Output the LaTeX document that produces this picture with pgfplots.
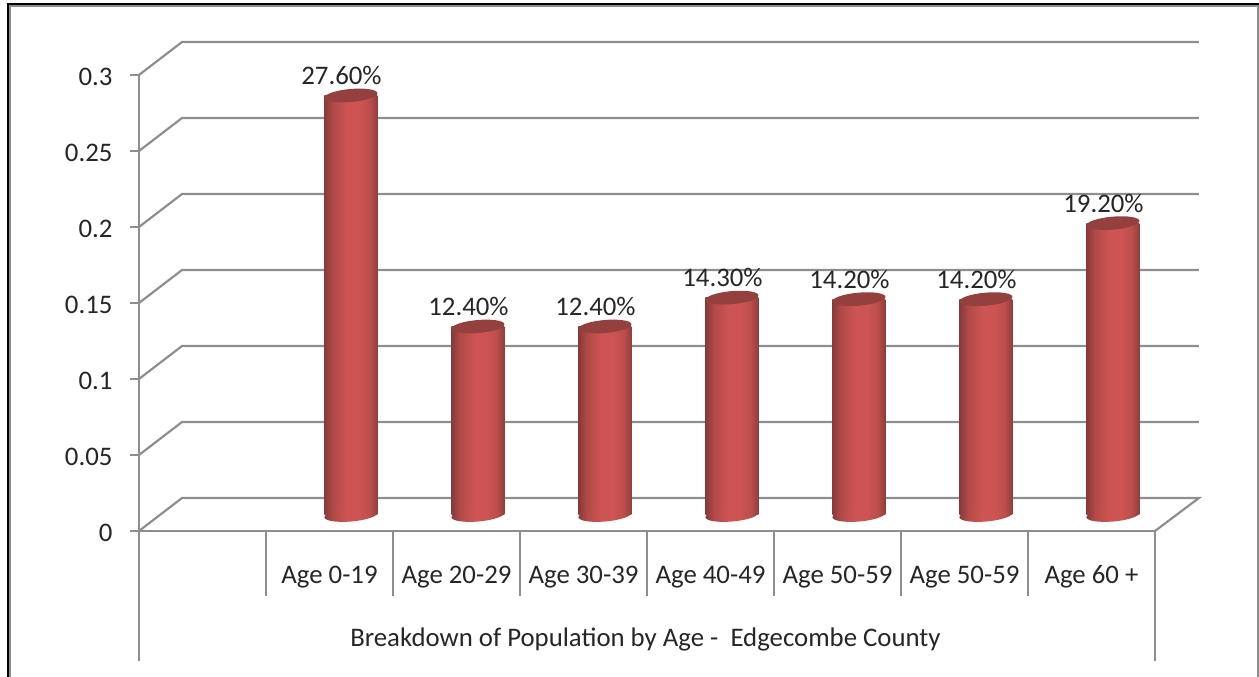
\documentclass[border=0pt]{standalone}
\usepackage{fontspec}
\setmainfont{Carlito}
\usepackage{pgfplots}
\pgfplotsset{compat=1.18}
\definecolor{wall}{HTML}{8E8E8E}
\definecolor{cylL}{HTML}{873A39}
\definecolor{cylM}{HTML}{CD5452}
\definecolor{cylR}{HTML}{8F3E3C}
\definecolor{cylT}{HTML}{93403E}
\definecolor{txt}{HTML}{262626}
\pgfdeclarehorizontalshading{cyl}{100bp}{color(0bp)=(cylL); color(25bp)=(cylL); color(33bp)=(cylM!60!cylL); color(46bp)=(cylM); color(58bp)=(cylM); color(68bp)=(cylM!70!cylR); color(75bp)=(cylR); color(100bp)=(cylR)}
\pgfdeclareplotmark{cylbase}{%
  \pgfpathellipse{\pgfpointorigin}{\pgfpoint{26.5pt}{2.3pt}}{\pgfpoint{-0.5pt}{6.5pt}}%
  \pgfshadepath{cyl}{0}\pgfusepath{discard}}
\pgfdeclareplotmark{cyltop}{%
  \pgfsetfillcolor{cylT}%
  \pgfpathellipse{\pgfpointorigin}{\pgfpoint{26.5pt}{2.3pt}}{\pgfpoint{-0.5pt}{6.5pt}}%
  \pgfusepath{fill}}
\newcommand{\chartfont}{\fontsize{26.8}{30}\selectfont}
\pgfplotsset{
  cylbar/.style={ybar,bar shift=0pt,bar width=53pt,draw=none,shade,shading=cyl,
    point meta={y*100},
    nodes near coords={\pgfmathprintnumber[fixed,fixed zerofill,precision=2,assume math mode=true]{\pgfplotspointmeta}\%},
    every node near coord/.append style={anchor=center,xshift=-9.5pt,yshift=20pt,font=\chartfont,text=txt}},
  wallline/.style={wall,line width=2.2pt},
}
\begin{document}
\begin{tikzpicture}[x=1pt,y=1pt]
\useasboundingbox (0,0) rectangle (1259,677);
% frame
\draw[wall,line width=2pt] (10,0) -- (10,671) -- (1257.5,671) -- (1257.5,0);
\draw[black,line width=2.4pt] (8,0) -- (8,673) -- (1259,673);
% front plane, value axis and category labels
\begin{axis}[
  at={(139pt,146pt)},anchor=south west,
  scale only axis,width=1016pt,height=456pt,
  xmin=-1.5,xmax=6.5,ymin=0,ymax=0.3,
  clip=false,
  axis lines=left,
  axis line style={-,draw=wall,line width=2.2pt},
  xtick={0,1,2,3,4,5,6},
  xticklabels={Age 0-19,Age 20-29,Age 30-39,Age 40-49,Age 50-59,Age 50-59,Age 60 +},
  xtick style={draw=none},
  ytick={0,0.05,0.1,0.15,0.2,0.25,0.3},
  yticklabels={0,0.05,0.1,0.15,0.2,0.25,0.3},
  ytick style={draw=wall,line width=2.2pt},
  tick align=outside,
  major tick length=9pt,
  tick label style={font=\chartfont,text=txt},
  xticklabel style={anchor=center,yshift=-37pt},
  yticklabel style={anchor=east,xshift=-14pt,yshift=-2pt},
  xlabel={Breakdown of Population by Age -\ \ Edgecombe County},
  every axis x label/.style={at={(axis description cs:0.4985,0)},anchor=center,yshift=-109pt,font=\chartfont,text=txt},
]
\addplot[wallline] coordinates {(-1.5,0) (-1.1614,0.0217) (6.846,0.0217) (6.5,0)};
\addplot[wallline] coordinates {(-1.5,0.05) (-1.1614,0.0717) (6.846,0.0717)};
\addplot[wallline] coordinates {(-1.5,0.10) (-1.1614,0.1217) (6.846,0.1217)};
\addplot[wallline] coordinates {(-1.5,0.15) (-1.1614,0.1717) (6.846,0.1717)};
\addplot[wallline] coordinates {(-1.5,0.20) (-1.1614,0.2217) (6.846,0.2217)};
\addplot[wallline] coordinates {(-1.5,0.25) (-1.1614,0.2717) (6.846,0.2717)};
\addplot[wallline] coordinates {(-1.5,0.30) (-1.1614,0.3217) (6.846,0.3217)};
\addplot[wallline] coordinates {(-1.5,0) (-1.5,-0.0855)};
\addplot[wallline] coordinates {(6.5,0) (6.5,-0.0855)};
\addplot[wallline] coordinates {(-0.5,0) (-0.5,-0.0428)};
\addplot[wallline] coordinates {(0.5,0) (0.5,-0.0428)};
\addplot[wallline] coordinates {(1.5,0) (1.5,-0.0428)};
\addplot[wallline] coordinates {(2.5,0) (2.5,-0.0428)};
\addplot[wallline] coordinates {(3.5,0) (3.5,-0.0428)};
\addplot[wallline] coordinates {(4.5,0) (4.5,-0.0428)};
\addplot[wallline] coordinates {(5.5,0) (5.5,-0.0428)};
\end{axis}
% cylinders stand mid-depth, so their axis is shifted by the perspective offset
\begin{axis}[
  at={(139pt,146pt)},anchor=south west,
  scale only axis,width=1016pt,height=456pt,
  xmin=-1.669,xmax=6.331,ymin=-0.010526,ymax=0.289474,
  clip=false,hide axis,
]
\addplot[only marks,mark=cylbase] coordinates {(0,0) (1,0) (2,0) (3,0) (4,0) (5,0) (6,0)};
\addplot[cylbar] coordinates {(0,0.276)};
\addplot[cylbar] coordinates {(1,0.124)};
\addplot[cylbar] coordinates {(2,0.124)};
\addplot[cylbar] coordinates {(3,0.143)};
\addplot[cylbar] coordinates {(4,0.142)};
\addplot[cylbar] coordinates {(5,0.142)};
\addplot[cylbar] coordinates {(6,0.192)};
\addplot[only marks,mark=cyltop] coordinates {(0,0.276) (1,0.124) (2,0.124) (3,0.143) (4,0.142) (5,0.142) (6,0.192)};
\end{axis}
\end{tikzpicture}
\end{document}
